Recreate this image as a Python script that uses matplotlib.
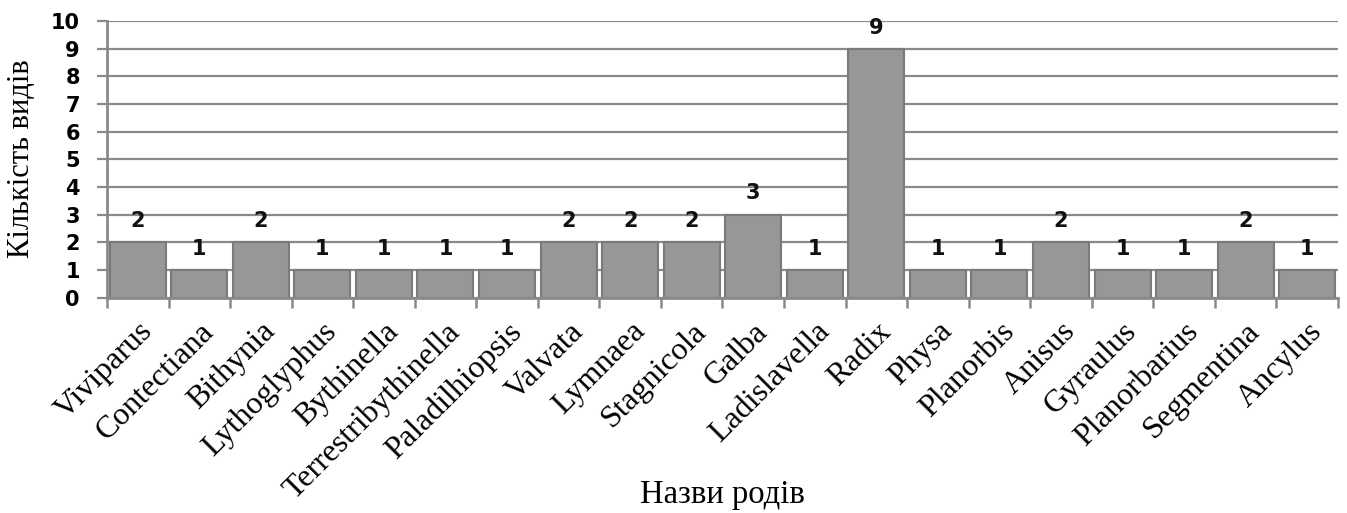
import matplotlib
matplotlib.use("Agg")
import matplotlib.pyplot as plt
import matplotlib.transforms as mtransforms
import numpy as np

genera = ["Viviparus", "Contectiana", "Bithynia", "Lythoglyphus", "Bythinella",
          "Terrestribythinella", "Paladilhiopsis", "Valvata", "Lymnaea", "Stagnicola",
          "Galba", "Ladislavella", "Radix", "Physa", "Planorbis", "Anisus",
          "Gyraulus", "Planorbarius", "Segmentina", "Ancylus"]
species_count = [2, 1, 2, 1, 1, 1, 1, 2, 2, 2, 3, 1, 9, 1, 1, 2, 1, 1, 2, 1]
y_ticks = list(range(0, 11))

fig = plt.figure(figsize=(13.47, 5.13), dpi=100)
ax = fig.add_axes([0.0794, 0.42, 0.9139, 0.539])

x = np.arange(len(genera))
grid_col = "#8a8a8a"
ax.set_axisbelow(True)
ax.yaxis.grid(True, color=grid_col, linewidth=1.6)
bars = ax.bar(x, species_count, width=0.91, color="#979797",
              edgecolor="#7a7a7a", linewidth=1.5, zorder=2)

for xi, v in zip(x, species_count):
    ax.annotate(str(v), (xi, v), xytext=(0, 8), textcoords="offset points",
                ha="center", va="bottom", fontsize=15, fontweight="bold",
                family="DejaVu Sans", color="#111111")

ax.set_xlim(-0.5, len(genera) - 0.5)
ax.set_ylim(0, 10)
ax.set_yticks(y_ticks)
ax.set_yticklabels([str(t) for t in y_ticks], fontsize=15, fontweight="bold",
                   family="DejaVu Sans")
ax.tick_params(axis="y", length=7.5, width=1.6, color=grid_col, pad=12)

ax.set_xticks(x)
ax.set_xticklabels(genera, rotation=45, ha="right", va="top", rotation_mode="anchor",
                   fontsize=23, family="Liberation Serif")
shift = mtransforms.ScaledTranslation(-5 / 100, 0, fig.dpi_scale_trans)
for lbl in ax.get_xticklabels():
    lbl.set_transform(lbl.get_transform() + shift)
ax.set_xticks(np.arange(-0.5, len(genera)), minor=True)
ax.tick_params(axis="x", which="major", length=0, pad=14)
ax.tick_params(axis="x", which="minor", length=7, width=1.8, color=grid_col)

for side in ["top", "right"]:
    ax.spines[side].set_visible(False)
for side in ["left", "bottom"]:
    ax.spines[side].set_color(grid_col)
    ax.spines[side].set_linewidth(2)

fig.text(22 / 1347, 0.69, "Кількість видів", rotation=90, ha="center", va="center",
         fontsize=22, family="Liberation Serif")
fig.text(0.536, 1 - 495 / 513, "Назви родів", ha="center", va="center", fontsize=23.5,
         family="Liberation Serif")

fig.savefig("out.png", dpi=100)
